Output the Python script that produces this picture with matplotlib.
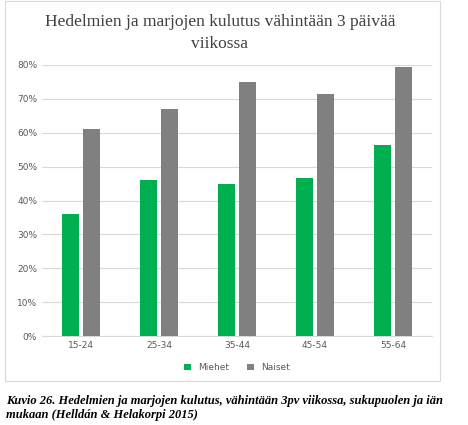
import matplotlib
matplotlib.use("Agg")
import matplotlib.pyplot as plt
from matplotlib.patches import Rectangle
import numpy as np

categories = ["15-24", "25-34", "35-44", "45-54", "55-64"]
miehet = [36, 46, 45, 46.5, 56.5]
naiset = [61, 67, 75, 71.5, 79.5]
yticks = [0, 10, 20, 30, 40, 50, 60, 70, 80]

fig = plt.figure(figsize=(4.68, 4.25), dpi=100)
fig.patches.append(Rectangle((5/468, 1-381/425), 435/468, 380/425, transform=fig.transFigure,
                             fill=False, edgecolor="#d9d9d9", lw=0.8))
ax = fig.add_axes([42/468, 1-336/425, 390/468, 271/425])
x = np.arange(len(categories))
w = 0.22
ax.bar(x - 0.13, miehet, w, color="#00b050", label="Miehet", zorder=3)
ax.bar(x + 0.13, naiset, w, color="#808080", label="Naiset", zorder=3)
ax.set_ylim(0, 80)
ax.set_xlim(-0.5, 4.5)
ax.set_yticks(yticks)
ax.set_yticklabels([f"{t}%" for t in yticks], fontsize=6.5, color="#595959")
ax.set_xticks(x)
ax.set_xticklabels(categories, fontsize=6.5, color="#595959")
ax.grid(axis="y", color="#d9d9d9", lw=0.8, zorder=0)
for s in ["top", "right", "left"]:
    ax.spines[s].set_visible(False)
ax.spines["bottom"].set_color("#d9d9d9")
ax.tick_params(length=0)
ax.legend(loc="upper center", bbox_to_anchor=(0.5, -0.07), ncol=2, frameon=False,
          fontsize=6.5, handlelength=0.8, handleheight=0.8, labelcolor="#595959")
fig.text(0.47, 1-33/425, "Hedelmien ja marjojen kulutus vähintään 3 päivää\nviikossa",
         ha="center", va="center", fontsize=12.5, family="Liberation Serif", color="#404040",
         linespacing=1.5)
fig.text(6/468, 1-408/425, "Kuvio 26. Hedelmien ja marjojen kulutus, vähintään 3pv viikossa, sukupuolen ja iän\nmukaan (Helldán & Helakorpi 2015)",
         ha="left", va="center", fontsize=9, family="Liberation Serif", style="italic",
         weight="bold", linespacing=1.25)
fig.savefig("out.png", dpi=100)
